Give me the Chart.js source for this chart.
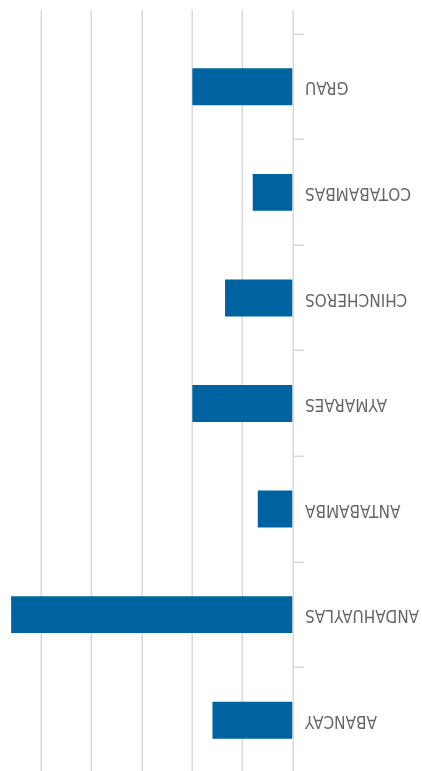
<!DOCTYPE html>
<html>
<head>
<meta charset="utf-8">
<script src="https://cdn.jsdelivr.net/npm/chart.js@4/dist/chart.umd.min.js"></script>
<style>
  html, body { margin: 0; padding: 0; background: #ffffff; }
  #wrap { position: relative; width: 422px; height: 771px; overflow: hidden; transform: rotate(180deg); background: #ffffff; }
  #inner { position: absolute; left: 0; top: -2px; width: 431px; height: 778px; }
</style>
</head>
<body>
<div id="wrap"><div id="inner"><canvas id="c" width="431" height="778"></canvas></div></div>
<script>
const categories = ['ABANCAY', 'ANDAHUAYLAS', 'ANTABAMBA', 'AYMARAES', 'CHINCHEROS', 'COTABAMBAS', 'GRAU'];
const values = [32, 112, 14, 40, 27, 16, 40];
const axisMax = 120;
const axisStep = 20;

new Chart(document.getElementById('c'), {
  type: 'bar',
  data: {
    labels: categories,
    datasets: [{
      data: values,
      backgroundColor: '#0063a1',
      borderWidth: 0,
      barPercentage: 0.35,
      categoryPercentage: 1
    }]
  },
  options: {
    indexAxis: 'y',
    responsive: false,
    animation: false,
    devicePixelRatio: 1,
    layout: { padding: { top: 0, left: 0, right: 0, bottom: 15 } },
    plugins: { legend: { display: false }, tooltip: { enabled: false }, title: { display: false } },
    scales: {
      x: {
        min: 0,
        max: axisMax,
        border: { display: false },
        ticks: { display: false, stepSize: axisStep },
        grid: { color: '#d9d9d9', lineWidth: 1.5, drawTicks: true, tickLength: 24 }
      },
      y: {
        border: { display: false },
        grid: { offset: true, drawOnChartArea: false, drawTicks: true, tickLength: 11, color: '#d9d9d9', lineWidth: 1.5 },
        ticks: {
          padding: 1,
          color: '#666666',
          font: { family: "'DejaVu Sans Condensed', 'Liberation Sans Narrow', 'Liberation Sans', sans-serif", size: 17 }
        },
        afterFit: (s) => { s.width = 129; s.paddingTop = 0; s.paddingBottom = 0; }
      }
    }
  }
});
</script>
</body>
</html>
